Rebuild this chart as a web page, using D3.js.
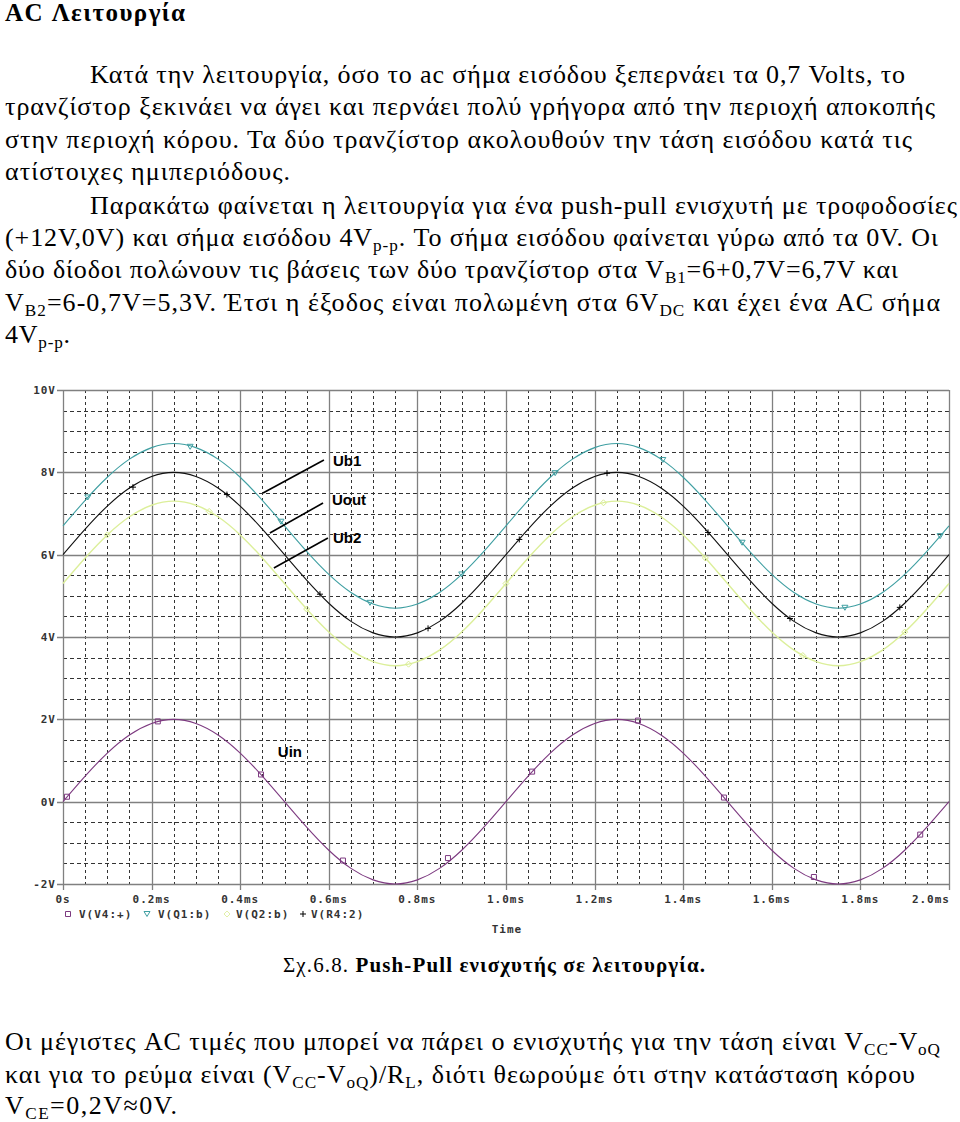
<!DOCTYPE html>
<html><head><meta charset="utf-8">
<script src="https://cdn.jsdelivr.net/npm/d3@7"></script>
<style>body{margin:0;background:#fff}</style>
</head><body>
<svg id="c" width="960" height="1122"></svg>
<script>
// ---------- DATA ----------
const times = [0,0.05,0.1,0.15,0.2,0.25,0.3,0.35,0.4,0.45,0.5,0.55,0.6,0.65,0.7,0.75,0.8,0.85,0.9,0.95,1.0,
  1.05,1.1,1.15,1.2,1.25,1.3,1.35,1.4,1.45,1.5,1.55,1.6,1.65,1.7,1.75,1.8,1.85,1.9,1.95,2.0];
const uin  = [0,0.62,1.18,1.62,1.9,2,1.9,1.62,1.18,0.62,0,-0.62,-1.18,-1.62,-1.9,-2,-1.9,-1.62,-1.18,-0.62,
  0,0.62,1.18,1.62,1.9,2,1.9,1.62,1.18,0.62,0,-0.62,-1.18,-1.62,-1.9,-2,-1.9,-1.62,-1.18,-0.62,0];
const ub1  = [6.7,7.32,7.88,8.32,8.6,8.7,8.6,8.32,7.88,7.32,6.7,6.08,5.52,5.08,4.8,4.7,4.8,5.08,5.52,6.08,
  6.7,7.32,7.88,8.32,8.6,8.7,8.6,8.32,7.88,7.32,6.7,6.08,5.52,5.08,4.8,4.7,4.8,5.08,5.52,6.08,6.7];
const uout = [6,6.62,7.18,7.62,7.9,8,7.9,7.62,7.18,6.62,6,5.38,4.82,4.38,4.1,4,4.1,4.38,4.82,5.38,
  6,6.62,7.18,7.62,7.9,8,7.9,7.62,7.18,6.62,6,5.38,4.82,4.38,4.1,4,4.1,4.38,4.82,5.38,6];
const ub2  = [5.3,5.92,6.48,6.92,7.2,7.3,7.2,6.92,6.48,5.92,5.3,4.68,4.12,3.68,3.4,3.3,3.4,3.68,4.12,4.68,
  5.3,5.92,6.48,6.92,7.2,7.3,7.2,6.92,6.48,5.92,5.3,4.68,4.12,3.68,3.4,3.3,3.4,3.68,4.12,4.68,5.3];

const uinMarkers  = [[0.009,0.12],[0.214,1.95],[0.447,0.66],[0.632,-1.43],[0.869,-1.37],[1.059,0.73],[1.298,1.97],[1.492,0.1],[1.695,-1.83],[1.935,-0.8]];
const ub1Markers  = [[0.056,7.39],[0.287,8.62],[0.492,6.8],[0.693,4.83],[0.9,5.52],[1.111,7.98],[1.354,8.3],[1.533,6.29],[1.765,4.71],[1.98,6.45]];
const uoutMarkers = [[0.158,7.64],[0.37,7.46],[0.58,5.04],[0.824,4.21],[1.03,6.37],[1.228,7.98],[1.456,6.54],[1.641,4.45],[1.889,4.72]];
const ub2Markers  = [[0.1,6.48],[0.33,7.05],[0.55,4.68],[0.78,3.34],[1.0,5.3],[1.22,7.26],[1.45,5.92],[1.67,3.55],[1.9,4.12]];

const xTicks = [0,0.2,0.4,0.6,0.8,1.0,1.2,1.4,1.6,1.8,2.0];
const xTickLabels = ["0s","0.2ms","0.4ms","0.6ms","0.8ms","1.0ms","1.2ms","1.4ms","1.6ms","1.8ms","2.0ms"];
const yTicks = [-2,0,2,4,6,8,10];
const yTickLabels = ["-2V","0V","2V","4V","6V","8V","10V"];
const legendLabels = ["V(V4:+)","V(Q1:b)","V(Q2:b)","V(R4:2)"];
const curveNames = ["Ub1","Uout","Ub2","Uin"];

// ---------- LAYOUT ----------
const svg = d3.select("#c");
const X0 = 63, X1 = 949, Y0 = 884, Y1 = 390;
const x = d3.scaleLinear([0, 2], [X0, X1]);
const y = d3.scaleLinear([-2, 10], [Y0, Y1]);
const serif = "'Liberation Serif','Times New Roman',serif";
const mono = "'DejaVu Sans Mono',monospace";
const BODY = 26;

const COL = {uin:"#7d3a80", ub1:"#3f9fa2", uout:"#111", ub2:"#dcef9a"};

// ---------- TEXT ----------
function drawText(l) {
  const fs = l.size || BODY;
  const t = svg.append("text").attr("x", l.x).attr("y", l.y)
    .attr("font-family", serif).attr("font-size", fs)
    .attr("font-weight", l.bold ? "bold" : "normal").attr("fill", "#000");
  let sub = false;
  l.segs.forEach(s => {
    const ts = t.append("tspan").text(s[0]);
    if (s[1] === 1) { ts.attr("font-size", fs*0.66).attr("dy", 5); sub = true; }
    else {
      if (s[1] === 2) ts.attr("font-weight","bold");
      if (sub) { ts.attr("dy", -5); sub = false; }
    }
  });
  if (l.w) t.attr("textLength", l.w).attr("lengthAdjust", "spacing");
}

const textLines = [
  {x:5, y:21, w:180, bold:true, size:25, segs:[["AC Λειτουργία"]]},
  {x:90, y:83, w:815, segs:[["Κατά την λειτουργία, όσο το ac σήμα εισόδου ξεπερνάει τα 0,7 Volts, το"]]},
  {x:5, y:115, w:930, segs:[["τρανζίστορ ξεκινάει να άγει και περνάει πολύ γρήγορα από την περιοχή αποκοπής"]]},
  {x:5, y:148, w:907, segs:[["στην περιοχή κόρου. Τα δύο τρανζίστορ ακολουθούν την τάση εισόδου κατά τις"]]},
  {x:5, y:180, w:285, segs:[["ατίστοιχες ημιπεριόδους."]]},
  {x:90, y:214, w:867, segs:[["Παρακάτω φαίνεται η λειτουργία για ένα push-pull ενισχυτή με τροφοδοσίες"]]},
  {x:5, y:246, w:933, segs:[["(+12V,0V) και σήμα εισόδου 4V"],["p-p",1],[". Το σήμα εισόδου φαίνεται γύρω από τα 0V. Οι"]]},
  {x:5, y:278, w:893, segs:[["δύο δίοδοι πολώνουν τις βάσεις των δύο τρανζίστορ στα V"],["B1",1],["=6+0,7V=6,7V και"]]},
  {x:5, y:311, w:935, segs:[["V"],["B2",1],["=6-0,7V=5,3V. Έτσι η έξοδος είναι πολωμένη στα 6V"],["DC",1],[" και έχει ένα AC σήμα"]]},
  {x:5, y:343, w:65, segs:[["4V"],["p-p",1],["."]]},
  {x:283, y:972, w:422, size:21, segs:[["Σχ.6.8. "],["Push-Pull ενισχυτής σε λειτουργία.",2]]},
  {x:5, y:1050, w:935, segs:[["Οι μέγιστες AC τιμές που μπορεί να πάρει ο ενισχυτής για την τάση είναι V"],["CC",1],["-V"],["oQ",1]]},
  {x:5, y:1083, w:910, segs:[["και για το ρεύμα είναι (V"],["CC",1],["-V"],["oQ",1],[")/R"],["L",1],[", διότι θεωρούμε ότι στην κατάσταση κόρου"]]},
  {x:5, y:1114, w:172, segs:[["V"],["CE",1],["=0,2V≈0V."]]}
];
textLines.forEach(drawText);

// ---------- GRID ----------
const g = svg.append("g");
const minorX = d3.range(0, 2.0001, 0.05).filter(v => Math.abs(v/0.2 - Math.round(v/0.2)) > 1e-6);
const minorY = d3.range(-2, 10.0001, 0.5).filter(v => Math.abs(v/2 - Math.round(v/2)) > 1e-6);
g.selectAll(".mx").data(minorX).join("line")
  .attr("x1", d => Math.round(x(d))+0.5).attr("x2", d => Math.round(x(d))+0.5)
  .attr("y1", Y1).attr("y2", Y0).attr("stroke", "#333").attr("stroke-dasharray", "3,3");
g.selectAll(".my").data(minorY).join("line")
  .attr("y1", d => Math.round(y(d))+0.5).attr("y2", d => Math.round(y(d))+0.5)
  .attr("x1", X0).attr("x2", X1).attr("stroke", "#333").attr("stroke-dasharray", "4,3");
g.selectAll(".Mx").data(xTicks).join("line")
  .attr("x1", d => Math.round(x(d))+0.5).attr("x2", d => Math.round(x(d))+0.5)
  .attr("y1", Y1).attr("y2", Y0 + 6).attr("stroke", "#808080").attr("stroke-width", 1.3);
g.selectAll(".My").data(yTicks).join("line")
  .attr("y1", d => Math.round(y(d))+0.5).attr("y2", d => Math.round(y(d))+0.5)
  .attr("x1", X0 - 6).attr("x2", X1).attr("stroke", "#808080").attr("stroke-width", 1.3);

// axis labels
svg.selectAll(".yl").data(yTicks).join("text")
  .attr("x", 56).attr("y", d => y(d) + 4).attr("text-anchor", "end")
  .attr("font-family", mono).attr("font-weight", "bold").attr("font-size", 11)
  .attr("letter-spacing", 1).attr("fill", "#333").text((d, i) => yTickLabels[i]);
const nX = xTicks.length;
svg.selectAll(".xl").data(xTicks).join("text")
  .attr("x", (d, i) => i === nX - 1 ? x(d) + 1 : x(d)).attr("y", 903)
  .attr("text-anchor", (d, i) => i === nX - 1 ? "end" : "middle")
  .attr("font-family", mono).attr("font-weight", "bold").attr("font-size", 11)
  .attr("letter-spacing", 1).attr("fill", "#333").text((d, i) => xTickLabels[i]);
svg.append("text").attr("x", 507).attr("y", 933).attr("text-anchor", "middle")
  .attr("font-family", mono).attr("font-weight", "bold").attr("font-size", 11)
  .attr("letter-spacing", 1).attr("fill", "#333").text("Time");

// ---------- CURVES ----------
const line = d3.line().x(d => x(d[0])).y(d => y(d[1])).curve(d3.curveNatural);
const series = [
  {vals: ub2, col: COL.ub2, w: 1.4},
  {vals: ub1, col: COL.ub1, w: 1.1},
  {vals: uout, col: COL.uout, w: 1.1},
  {vals: uin, col: COL.uin, w: 1.1}
];
series.forEach(s => {
  svg.append("path").datum(times.map((t, i) => [t, s.vals[i]]))
    .attr("d", line).attr("fill", "none").attr("stroke", s.col).attr("stroke-width", s.w);
});

// markers
const sq = "M-2.5,-2.5H2.5V2.5H-2.5Z";
const tri = "M-3,-2.5H3L0,2.5Z";
const dia = "M0,-3L3,0L0,3L-3,0Z";
const plus = "M-3,0H3M0,-3V3";
function marks(data, path, col) {
  svg.append("g").selectAll("path").data(data).join("path")
    .attr("transform", d => `translate(${x(d[0])},${y(d[1])})`)
    .attr("d", path).attr("fill", "none").attr("stroke", col).attr("stroke-width", 1);
}
marks(ub2Markers, dia, "#d8ec90");
marks(ub1Markers, tri, COL.ub1);
marks(uoutMarkers, plus, "#000");
marks(uinMarkers, sq, COL.uin);

// ---------- LEGEND ----------
const leg = svg.append("g").attr("font-family", mono).attr("font-weight", "bold")
  .attr("font-size", 11).attr("letter-spacing", 1).attr("fill", "#333");
const legSyms = [[68, sq, COL.uin], [147, tri, COL.ub1], [227, dia, "#e2f0a8"], [303, plus, "#000"]];
legSyms.forEach(s => leg.append("path").attr("transform", `translate(${s[0]},914)`)
  .attr("d", s[1]).attr("fill", "none").attr("stroke", s[2]));
[79, 158, 236, 311].forEach((px, i) => {
  leg.append("text").attr("x", px).attr("y", 918).text(legendLabels[i]);
});

// ---------- ANNOTATIONS (data coords) ----------
const ann = [
  {name: curveNames[0], tx: 0.6095, tv: 8.154, l: [[0.4515, 7.498], [0.589, 8.30]]},
  {name: curveNames[1], tx: 0.607, tv: 7.207, l: [[0.467, 6.526], [0.587, 7.255]]},
  {name: curveNames[2], tx: 0.6095, tv: 6.284, l: [[0.476, 5.676], [0.598, 6.405]]},
  {name: curveNames[3], tx: 0.485, tv: 1.085, l: null}
];
ann.forEach(a => {
  if (a.l) svg.append("line").attr("x1", x(a.l[0][0])).attr("y1", y(a.l[0][1]))
    .attr("x2", x(a.l[1][0])).attr("y2", y(a.l[1][1])).attr("stroke", "#000").attr("stroke-width", 1.6);
  svg.append("text").attr("x", x(a.tx)).attr("y", y(a.tv))
    .attr("font-family", "'Liberation Sans',Arial,sans-serif").attr("font-weight", "bold")
    .attr("font-size", 15).attr("fill", "#000").text(a.name);
});
</script>
</body></html>
